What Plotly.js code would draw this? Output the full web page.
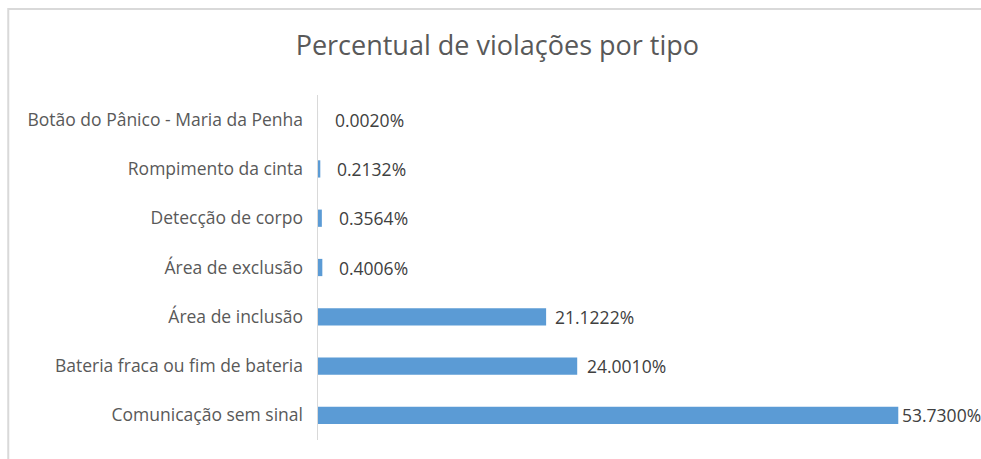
<!DOCTYPE html>
<html><head><meta charset="utf-8">
<script src="https://cdn.plot.ly/plotly-3.0.1.min.js"></script>
<style>html,body{margin:0;padding:0;background:#fff}#chart{width:981px;height:459px}</style>
</head><body><div id="chart"></div>
<script>
const categories = ["Botão do Pânico - Maria da Penha","Rompimento da cinta","Detecção de corpo","Área de exclusão","Área de inclusão","Bateria fraca ou fim de bateria","Comunicação sem sinal"];
const values = [0.0020, 0.2132, 0.3564, 0.4006, 21.1222, 24.0010, 53.7300];
const valueLabels = ["0.0020%","0.2132%","0.3564%","0.4006%","21.1222%","24.0010%","53.7300%"];

const FONT = "'Open Sans', sans-serif";
const labelShift = [15, 15, 15, 15, 7, 8, 2];
const trace = {
  type: "bar", orientation: "h", x: values, y: categories,
  marker: {color: "#5b9bd5"}, hoverinfo: "none", cliponaxis: false
};
const annotations = values.map((v,i)=>({
  x: v, y: categories[i], xref: "x", yref: "y", text: valueLabels[i],
  showarrow: false, xanchor: "left", xshift: labelShift[i],
  font: {family: FONT, size: 17.5, color: "#404040"}
}));
const layout = {
  width: 981, height: 459,
  margin: {l: 318, r: 15, t: 95, b: 19},
  paper_bgcolor: "#fff", plot_bgcolor: "#fff",
  title: {text: "Percentual de violações por tipo", x: 0.507, xanchor: "center", y: 0.9, yanchor: "middle",
          font: {family: FONT, size: 27, color: "#595959"}},
  bargap: 0.65,
  showlegend: false,
  xaxis: {range: [0, 60], showgrid: false, zeroline: false, showticklabels: false, showline: false, fixedrange: true},
  yaxis: {autorange: "reversed", showgrid: false, zeroline: false, showline: true, linecolor: "#d9d9d9", linewidth: 1.5,
          ticks: "outside", ticklen: 10, tickcolor: "rgba(0,0,0,0)",
          tickfont: {family: FONT, size: 17.5, color: "#595959"}},
  annotations: annotations,
  shapes: [{type: "path", xref: "paper", yref: "paper",
            path: "M -0.478,-0.2 L -0.478,1.249 L 1.2,1.249",
            line: {color: "#d9d9d9", width: 2}}]
};
Plotly.newPlot("chart", [trace], layout, {displayModeBar: false, staticPlot: true});
</script></body></html>
